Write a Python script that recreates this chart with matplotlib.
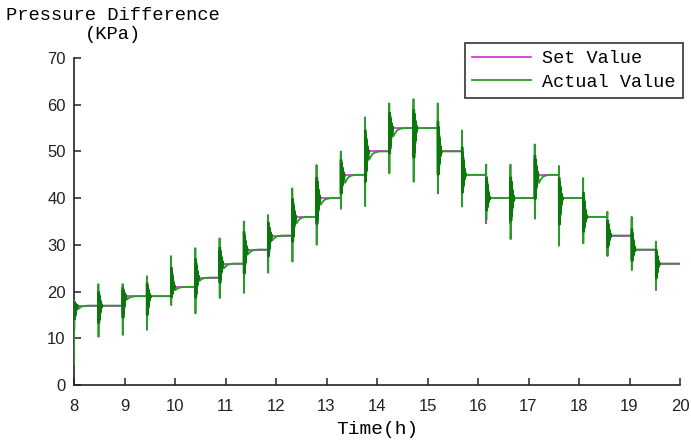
import numpy as np
import matplotlib
matplotlib.use('Agg')
import matplotlib.pyplot as plt

# step start times (h) and set values (KPa)
set_t = [8.00, 8.48, 8.96, 9.44, 9.92, 10.40, 10.88, 11.36, 11.84, 12.32, 12.80, 13.28, 13.76,
         14.24, 14.72, 15.20, 15.68, 16.16, 16.64, 17.12, 17.60, 18.08, 18.56, 19.04, 19.52]
set_v = [17, 17, 19, 19, 21, 23, 26, 29, 32, 36, 40, 45, 50,
         55, 55, 50, 45, 40, 40, 45, 40, 36, 32, 29, 26]
# short dips of the set value at some transitions (nan = none)
set_dip = [np.nan, np.nan, np.nan, np.nan, np.nan, np.nan, np.nan, np.nan, np.nan, np.nan, np.nan, np.nan, np.nan,
           np.nan, 52.0, np.nan, 39.3, 34.6, 34.6, np.nan, np.nan, 31.5, 27.8, 25.0, 22.5]
# peaks of the actual value at each transition
spike_hi = [18.0, 21.6, 21.6, 23.3, 27.6, 29.3, 31.4, 35.0, 36.4, 42.1, 47.1, 50.0, 57.3,
            60.3, 61.2, 60.3, 54.5, 47.2, 47.2, 51.5, 46.9, 44.3, 37.1, 36.0, 30.7]
spike_lo = [11.8, 10.3, 10.7, 11.8, 17.1, 15.3, 18.6, 19.7, 24.0, 26.4, 30.0, 37.7, 38.3,
            45.3, 43.5, 41.0, 38.2, 35.3, 31.2, 35.6, 29.8, 30.3, 27.6, 24.6, 20.3]
start_value = 4.3
t_end = 20.0

# ringing shape after each jump (fraction of peak excursion)
ring = [1, -1, 0.6, -0.55, 0.5, -0.45, 0.4, -0.36, 0.33, -0.3, 0.27, -0.24, 0.21, -0.18,
        0.15, -0.13, 0.11, -0.09, 0.07, -0.06, 0.05, -0.04, 0.03, -0.02]
ring_dt = 0.0028
tail_dt = [0.02, 0.05, 0.09, 0.14, 0.22]
tail_frac = [0.35, 0.22, 0.1, 0.04, 0.0]

GREEN = '#2a9a2a'
DARK_GREEN = '#0b760b'
MAGENTA = '#d42ad4'

# set value path
sx, sy = [], []
for i, (t, v) in enumerate(zip(set_t, set_v)):
    prev = set_v[i - 1] if i > 0 else v
    sx += [t, t]
    sy += [prev, v]
    if not np.isnan(set_dip[i]):
        sx += [t, t]
        sy += [set_dip[i], v]
    t_next = set_t[i + 1] if i + 1 < len(set_t) else t_end
    sx.append(t_next)
    sy.append(v)

# actual value path
ax_x, ax_y = [set_t[0]], [start_value]
rings = []
for i, (t, v) in enumerate(zip(set_t, set_v)):
    prev = set_v[i - 1] if i > 0 else start_value
    rx, ry = [t], [prev if i > 0 else start_value]
    for k, f in enumerate(ring):
        rx.append(t + (k + 1) * ring_dt)
        ry.append(v + f * (spike_hi[i] - v) if f > 0 else v + f * (v - spike_lo[i]))
    rings.append((rx, ry))
    ax_x += rx
    ax_y += ry
    jump = v - prev if i > 0 else 2.0
    t0 = rx[-1]
    for d, f in zip(tail_dt, tail_frac):
        ax_x.append(t0 + d)
        ax_y.append(v - f * max(jump, 0))
    t_next = set_t[i + 1] if i + 1 < len(set_t) else t_end
    ax_x.append(t_next)
    ax_y.append(v)

fig = plt.figure(figsize=(6.91, 4.47), dpi=100)
ax = fig.add_axes([74 / 691, 62 / 447, 606 / 691, 327 / 447])

ax.plot(sx, sy, color=MAGENTA, lw=1.2, label='Set Value', zorder=2)
ax.plot(ax_x, ax_y, color=GREEN, lw=1.3, label='Actual Value', zorder=3)
for rx, ry in rings:
    ax.plot(rx[3:], ry[3:], color=DARK_GREEN, lw=2.0, zorder=4)

ax.set_xlim(8, 20)
ax.set_ylim(0, 70)
ax.set_xticks(range(8, 21))
ax.set_yticks(range(0, 71, 10))
ax.spines['top'].set_visible(False)
ax.spines['right'].set_visible(False)
for s in ('left', 'bottom'):
    ax.spines[s].set_linewidth(1.2)
    ax.spines[s].set_color('#222222')
ax.tick_params(direction='in', length=5, width=1.1, colors='#222222', labelsize=12)
for lab in ax.get_xticklabels() + ax.get_yticklabels():
    lab.set_family(['Liberation Sans Narrow', 'Liberation Sans'])
ax.tick_params(axis='x', pad=10)
ax.tick_params(axis='y', pad=6)

mono = 'Liberation Mono'
ax.set_xlabel('Time(h)', family=mono, fontsize=14, labelpad=5)
fig.text(113 / 691, 1 - 25 / 447, 'Pressure Difference\n(KPa)', family=mono, fontsize=13.5,
         ha='center', va='center', multialignment='center', linespacing=1.2)

leg = ax.legend(loc='upper right', bbox_to_anchor=(683 / 691, 1 - 43 / 447), bbox_transform=fig.transFigure,
                borderaxespad=0, prop={'family': mono, 'size': 13.3}, fancybox=False, framealpha=1,
                edgecolor='#333333', handlelength=3.2, handletextpad=0.6, borderpad=0.4, labelspacing=0.35)
leg.get_frame().set_linewidth(1.2)

fig.savefig('out.png', dpi=100)
